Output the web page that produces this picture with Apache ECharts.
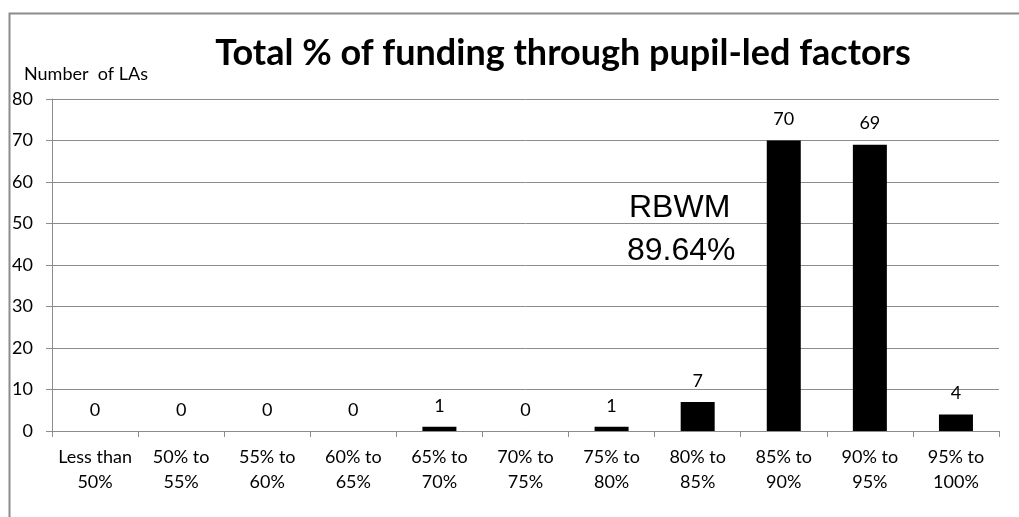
<!DOCTYPE html>
<html>
<head>
<meta charset="utf-8">
<script src="https://cdn.jsdelivr.net/npm/echarts@6/dist/echarts.min.js"></script>
<style>
  html, body { margin: 0; padding: 0; background: #fff; }
  #chart { width: 1019px; height: 517px; }
</style>
</head>
<body>
<div id="chart"></div>
<script>
// bands of pupil-led funding share
const categories = ['Less than\n50%', '50% to\n55%', '55% to\n60%', '60% to\n65%', '65% to\n70%', '70% to\n75%',
  '75% to\n80%', '80% to\n85%', '85% to\n90%', '90% to\n95%', '95% to\n100%']
const numberOfLAs = [0, 0, 0, 0, 1, 0, 1, 7, 70, 69, 4]
const yTicks = [0, 10, 20, 30, 40, 50, 60, 70, 80]

const font = 'Lato, "Open Sans", sans-serif'
const chart = echarts.init(document.getElementById('chart'))

chart.setOption({
  animation: false,
  title: {
    text: 'Total % of funding through pupil-led factors',
    left: 558,
    textAlign: 'center',
    top: 30,
    textStyle: { fontFamily: font, fontWeight: 'bold', fontSize: 36, color: '#000' }
  },
  grid: { left: 52, right: 20, top: 99, bottom: 86 },
  xAxis: {
    type: 'category',
    data: categories,
    axisLine: { lineStyle: { color: '#8c8c8c', width: 1 } },
    axisTick: { show: true, length: 6, lineStyle: { color: '#8c8c8c' } },
    axisLabel: { fontFamily: font, fontSize: 18, color: '#000', lineHeight: 25, margin: 14, interval: 0 }
  },
  yAxis: {
    type: 'value',
    min: yTicks[0],
    max: yTicks[yTicks.length - 1],
    interval: 10,
    name: 'Number  of LAs',
    nameLocation: 'end',
    nameGap: 16,
    nameTextStyle: { fontFamily: font, fontSize: 18, color: '#000', align: 'left', padding: [0, 0, 0, -28] },
    axisLine: { show: true, lineStyle: { color: '#8c8c8c' } },
    axisTick: { show: true, length: 6, lineStyle: { color: '#8c8c8c' } },
    axisLabel: { fontFamily: font, fontSize: 18, color: '#000', margin: 19 },
    splitLine: { lineStyle: { color: '#8c8c8c', width: 1 } }
  },
  series: [{
    type: 'bar',
    data: numberOfLAs,
    barWidth: 34,
    itemStyle: { color: '#000' },
    label: { show: true, position: 'top', distance: 12, fontFamily: font, fontSize: 18, color: '#000' }
  }],
  graphic: [
    {
      type: 'rect',
      shape: { x: 9.5, y: 13.5, width: 1100, height: 600 },
      style: { fill: null, stroke: '#8c8c8c', lineWidth: 2 },
      silent: true
    },
    {
      type: 'text',
      left: 629,
      top: 192,
      style: { text: 'RBWM', font: '32px "Liberation Sans", Arial, sans-serif', fill: '#000' }
    },
    {
      type: 'text',
      left: 627,
      top: 235,
      style: { text: '89.64%', font: '32px "Liberation Sans", Arial, sans-serif', fill: '#000' }
    }
  ]
})
</script>
</body>
</html>
